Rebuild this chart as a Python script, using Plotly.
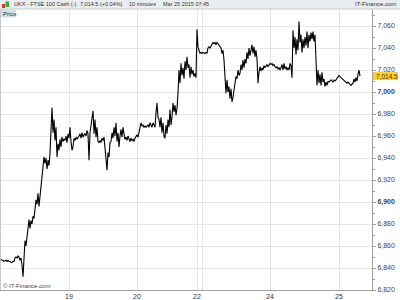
import plotly.graph_objects as go

# ---- data ----
prices = [
    6847, 6848, 6847, 6847, 6846, 6847, 6847, 6846, 6847, 6846,
    6846, 6845, 6845, 6846, 6846, 6849, 6850, 6849, 6851, 6850,
    6847, 6849, 6843, 6832, 6858, 6865, 6860, 6868, 6878, 6884,
    6876, 6883, 6880, 6887, 6885, 6893, 6902, 6898, 6908, 6896,
    6905, 6914, 6920, 6932, 6941, 6935, 6940, 6930, 6938, 6933,
    6944, 6965, 6986, 6963, 6975, 6956, 6968, 6941, 6953, 6947,
    6957, 6950, 6959, 6955, 6957, 6956, 6960, 6954, 6962, 6958,
    6968, 6955, 6947, 6950, 6958, 6956, 6959, 6957, 6958, 6960,
    6962, 6958, 6963, 6959, 6961, 6962, 6960, 6965, 6962, 6938,
    6963, 6970, 6981, 6983, 6962, 6975, 6959, 6968, 6955, 6954,
    6956, 6954, 6958, 6956, 6959, 6950, 6942, 6929, 6945, 6941,
    6954, 6955, 6963, 6958, 6968, 6960, 6972, 6955, 6963, 6950,
    6960, 6966, 6959, 6968, 6962, 6957, 6959, 6956, 6960, 6957,
    6955, 6958, 6956, 6957, 6955, 6958, 6960, 6961, 6959, 6963,
    6968, 6972, 6969, 6970, 6968, 6969, 6968, 6969, 6970, 6968,
    6972, 6970, 6968, 6972, 6969, 6968, 6981, 6990, 6977, 6975,
    6968, 6977, 6963, 6972, 6960, 6958, 6970, 6962, 6975, 6968,
    6984, 6970, 6977, 6990, 6982, 6988, 6979, 6985, 6999, 7020,
    7008, 7026, 7015, 7022, 7012, 7028, 7020, 7032, 7022, 7025,
    7013, 7023, 7016, 7020, 7014, 7017, 7013, 7057, 7041, 7037,
    7035, 7036, 7035, 7036, 7035, 7035, 7036, 7035, 7040, 7041,
    7040, 7042, 7043, 7045, 7044, 7045, 7043, 7045, 7044, 7043,
    7042, 7040, 7035, 7038, 7029, 7014, 6999, 7011, 7000, 7005,
    6994, 7003, 6991, 6995, 7005, 7008, 7014, 7012, 7020, 7015,
    7017, 7025, 7020, 7029, 7022, 7030, 7026, 7036, 7030, 7040,
    7033, 7038, 7043, 7035, 7041, 7032, 7038, 7030, 7008, 7018,
    7023, 7019, 7022, 7020, 7024, 7022, 7024, 7025, 7023, 7025,
    7026, 7025, 7026, 7024, 7025, 7023, 7022, 7023, 7021, 7022,
    7020, 7022, 7025, 7020, 7026, 7021, 7023, 7020, 7022, 7020,
    7026, 7024, 7013, 7056, 7040, 7050, 7034, 7048, 7038, 7064,
    7045, 7052, 7036, 7048, 7040, 7050, 7042, 7055, 7040, 7052,
    7046, 7054, 7048, 7055, 7046, 7052, 7034, 7006, 7020, 7008,
    7016, 7006, 7018, 7009, 7012, 7005, 7009, 7006, 7010, 7009,
    7010, 7011, 7010, 7009, 7011, 7010, 7011, 7012, 7014, 7015,
    7014, 7013, 7012, 7011, 7010, 7010, 7009, 7008, 7009, 7008,
    7006, 7006, 7007, 7008, 7012, 7009, 7013, 7010, 7016, 7020,
    7014.5,
]
bar_index = list(range(len(prices)))

day_tick_bars = [69, 137, 197, 202, 270, 339]
day_tick_labels = ["19", "20", "22", "", "24", "25"]

price_ticks = [6820, 6840, 6860, 6880, 6900, 6920, 6940, 6960, 6980, 7000, 7020, 7040, 7060]
price_tick_labels = ["6,820", "6,840", "6,860", "6,880", "<b>6,900</b>", "6,920", "6,940",
                     "6,960", "6,980", "<b>7,000</b>", "7,020", "7,040", "7,060"]

last_price = prices[-1]
title_parts = ["UKX - FTSE 100 Cash (-)", "7,014.5 (+0.04%)", "10 minutes", "Mar 25 2015 07:45"]

# ---- layout geometry ----
W, H = 400, 300
ML, MR, MT, MB = 0, 28, 9, 10
PW, PH = W - ML - MR, H - MT - MB
Y_MIN = 6820
Y_MAX = Y_MIN + PH / 1.1


def px(x):
    return (x - ML) / PW


def py(y):
    return (H - MB - y) / PH


FONT = "Liberation Sans, Arial, sans-serif"

fig = go.Figure()
fig.add_trace(go.Scatter(
    x=bar_index, y=prices, mode="lines",
    line=dict(color="#000000", width=1.1),
    hoverinfo="skip", showlegend=False,
))

shapes = []
# header bar
shapes.append(dict(type="rect", xref="paper", yref="paper", layer="above",
                   x0=px(0), x1=px(400), y0=py(9), y1=py(0),
                   fillcolor="#eaedf0", line=dict(width=0)))
shapes.append(dict(type="line", xref="paper", yref="paper", layer="above",
                   x0=px(0), x1=px(400), y0=py(9), y1=py(9),
                   line=dict(color="#c8ced4", width=1)))
# Price tab
shapes.append(dict(type="rect", xref="paper", yref="paper", layer="above",
                   x0=px(0), x1=px(16), y0=py(17.5), y1=py(9),
                   fillcolor="#d7dfe7", line=dict(width=0)))
# icon candles
shapes.append(dict(type="rect", xref="paper", yref="paper", layer="above",
                   x0=px(2), x1=px(5), y0=py(8), y1=py(4),
                   fillcolor="#e03030", line=dict(width=0)))
shapes.append(dict(type="rect", xref="paper", yref="paper", layer="above",
                   x0=px(5.5), x1=px(9), y0=py(7), y1=py(1.5),
                   fillcolor="#30b030", line=dict(width=0)))
# left border
shapes.append(dict(type="line", xref="paper", yref="paper", layer="above",
                   x0=px(0.5), x1=px(0.5), y0=py(290), y1=py(9),
                   line=dict(color="#c8c8c8", width=1)))
# last price tag
shapes.append(dict(type="rect", xref="paper", yref="y", layer="above",
                   x0=px(373), x1=px(398), y0=last_price - 3.6, y1=last_price + 3.6,
                   fillcolor="#ffd21f", line=dict(width=0)))

annotations = []
title_x = [12, 78, 127, 161]
for tx, tt in zip(title_x, title_parts):
    annotations.append(dict(xref="paper", yref="paper", x=px(tx), y=py(4.5),
                            text=tt, showarrow=False, xanchor="left", yanchor="middle",
                            font=dict(family=FONT, size=5.5, color="#333333")))
annotations.append(dict(xref="paper", yref="paper", x=px(398), y=py(4.5),
                        text="IT-Finance.com", showarrow=False, xanchor="right", yanchor="middle",
                        font=dict(family=FONT, size=6, color="#333333")))
annotations.append(dict(xref="paper", yref="paper", x=px(1), y=py(13.5),
                        text="Price", showarrow=False, xanchor="left", yanchor="middle",
                        font=dict(family=FONT, size=6, color="#333333")))
annotations.append(dict(xref="paper", yref="paper", x=px(1), y=py(286),
                        text="© IT-Finance.com", showarrow=False, xanchor="left", yanchor="middle",
                        font=dict(family=FONT, size=6, color="#444444")))
annotations.append(dict(xref="paper", yref="y", x=px(373.5), y=last_price,
                        text=f"{last_price:,.1f}", showarrow=False, xanchor="left", yanchor="middle",
                        font=dict(family=FONT, size=6.5, color="#333333")))

fig.update_layout(
    width=W, height=H,
    margin=dict(l=ML, r=MR, t=MT, b=MB, pad=0),
    paper_bgcolor="#ffffff", plot_bgcolor="#ffffff",
    shapes=shapes, annotations=annotations,
    showlegend=False,
    xaxis=dict(
        range=[0, PW], tickmode="array", tickvals=day_tick_bars, ticktext=day_tick_labels,
        showgrid=True, gridcolor="#e6e6e6", gridwidth=1,
        showline=True, linecolor="#a0a0a0", linewidth=1,
        ticks="", tickfont=dict(family=FONT, size=7, color="#333333"),
        zeroline=False, fixedrange=True,
    ),
    yaxis=dict(
        range=[Y_MIN, Y_MAX], side="right", tickmode="array",
        tickvals=price_ticks, ticktext=price_tick_labels,
        showgrid=True, gridcolor="#e6e6e6", gridwidth=1,
        showline=True, linecolor="#a0a0a0", linewidth=1,
        ticks="outside", ticklen=3, tickcolor="#a0a0a0",
        minor=dict(dtick=10, ticks="outside", ticklen=2, tickcolor="#a0a0a0", showgrid=False),
        tickfont=dict(family=FONT, size=7, color="#444444"),
        zeroline=False, fixedrange=True,
    ),
)

fig.write_html("out.html")
